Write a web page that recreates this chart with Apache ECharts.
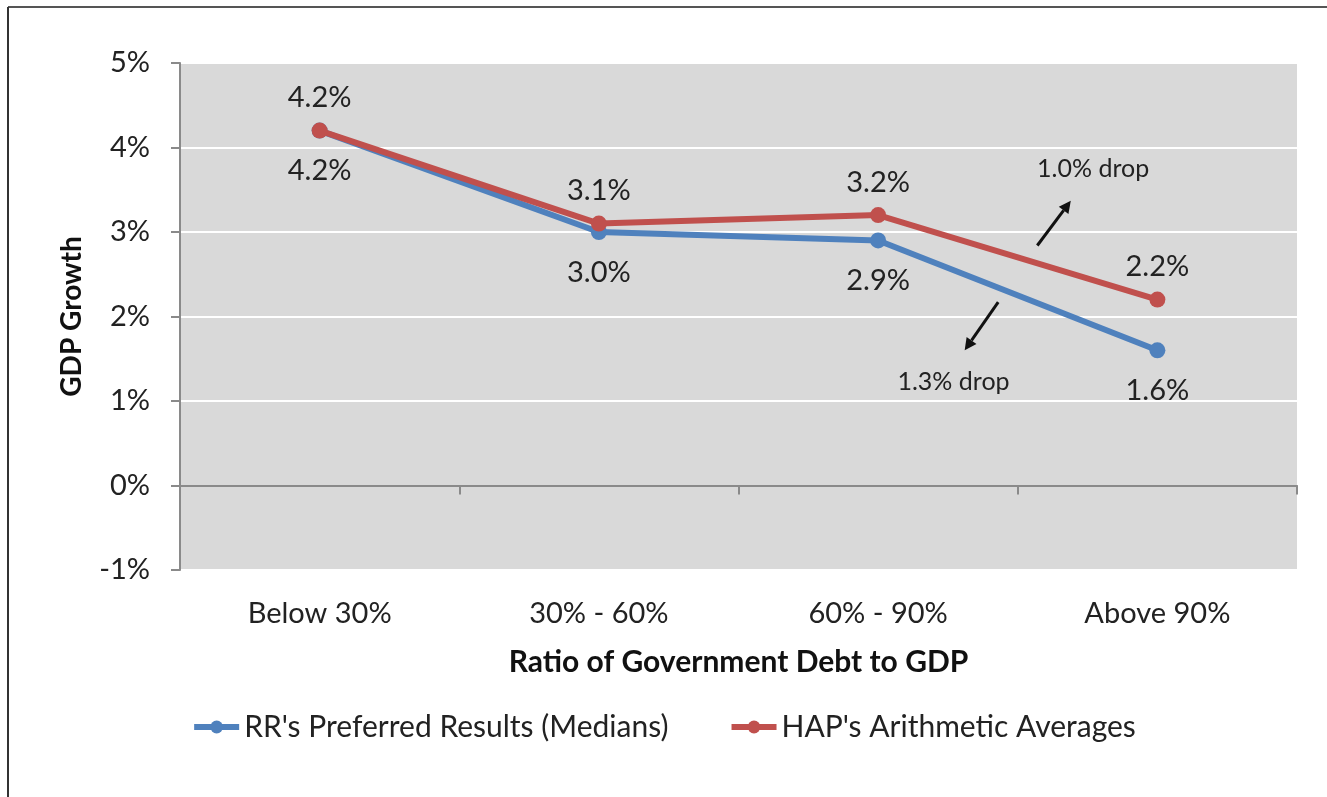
<!DOCTYPE html>
<html>
<head>
<meta charset="utf-8">
<script src="https://cdn.jsdelivr.net/npm/echarts@6/dist/echarts.min.js"></script>
<style>
  html, body { margin: 0; padding: 0; background: #fff; }
  #chart { width: 1327px; height: 797px; }
</style>
</head>
<body>
<div id="chart"></div>
<script>
var categories = ['Below 30%', '30% - 60%', '60% - 90%', 'Above 90%']
var rrMedians = [4.2, 3.0, 2.9, 1.6]
var hapAverages = [4.2, 3.1, 3.2, 2.2]
var seriesNames = ["RR's Preferred Results (Medians)", "HAP's Arithmetic Averages"]
// annotations: [category position, value]
var dropNotes = [
  { text: '1.0% drop', at: [2.77, 3.75], from: [2.57, 2.84], to: [2.69, 3.37] },
  { text: '1.3% drop', at: [2.27, 1.23], from: [2.43, 2.17], to: [2.31, 1.60] }
]

var font = 'Lato, "Open Sans", sans-serif'
var chart = echarts.init(document.getElementById('chart'))

var option = {
  animation: false,
  textStyle: { fontFamily: font },
  grid: { left: 180, right: 30, top: 63, bottom: 227, containLabel: false },
  legend: {
    bottom: 50,
    left: 'center',
    itemWidth: 45,
    itemHeight: 16,
    itemGap: 60,
    lineStyle: { width: 6 },
    textStyle: { fontSize: 30, color: '#222', fontFamily: font },
    data: seriesNames
  },
  xAxis: [{
    type: 'category',
    data: categories,
    position: 'bottom',
    axisLine: { show: false, onZero: false },
    axisTick: { show: false },
    axisLabel: { fontSize: 29, color: '#222', margin: 29 },
    name: 'Ratio of Government Debt to GDP',
    nameLocation: 'middle',
    nameGap: 77,
    nameTextStyle: { fontSize: 30, fontWeight: 'bold', color: '#111' }
  }, {
    // zero line with boundary ticks
    type: 'category',
    data: categories,
    position: 'bottom',
    axisLine: { show: true, onZero: true, lineStyle: { color: '#8a8a8a', width: 2 } },
    axisTick: { show: true, length: 9, lineStyle: { color: '#8a8a8a', width: 2 } },
    axisLabel: { show: false }
  }],
  yAxis: {
    type: 'value',
    min: -1,
    max: 5,
    interval: 1,
    axisLine: { show: true, lineStyle: { color: '#8a8a8a', width: 2 } },
    axisTick: { show: true, length: 9, lineStyle: { color: '#8a8a8a', width: 2 } },
    axisLabel: { fontSize: 29, color: '#222', margin: 30, formatter: '{value}%' },
    splitLine: { show: true, lineStyle: { color: '#ffffff', width: 2 } },
    splitArea: { show: true, areaStyle: { color: ['#d9d9d9', '#d9d9d9'] } },
    name: 'GDP Growth',
    nameLocation: 'middle',
    nameRotate: 90,
    nameGap: 94,
    nameTextStyle: { fontSize: 28, fontWeight: 'bold', color: '#111' }
  },
  series: [{
    name: seriesNames[0],
    type: 'line',
    data: rrMedians,
    symbol: 'circle',
    symbolSize: 16,
    lineStyle: { color: '#4f81bd', width: 6 },
    itemStyle: { color: '#4f81bd' },
    z: 3,
    label: {
      show: true,
      position: 'bottom',
      distance: 18,
      fontSize: 29,
      color: '#222',
      formatter: function (p) { return p.value.toFixed(1) + '%' }
    }
  }, {
    name: seriesNames[1],
    type: 'line',
    data: hapAverages,
    symbol: 'circle',
    symbolSize: 16,
    lineStyle: { color: '#c0504d', width: 6 },
    itemStyle: { color: '#c0504d' },
    z: 4,
    label: {
      show: true,
      position: 'top',
      distance: 10,
      fontSize: 29,
      color: '#222',
      formatter: function (p) { return p.value.toFixed(1) + '%' }
    }
  }]
}
chart.setOption(option)

// category positions may be fractional, so interpolate between neighbouring indices
function toPx(pt) {
  var i = Math.floor(pt[0])
  var x0 = chart.convertToPixel({ xAxisIndex: 0 }, i)
  var x1 = chart.convertToPixel({ xAxisIndex: 0 }, i + 1)
  var y = chart.convertToPixel({ yAxisIndex: 0 }, pt[1])
  return [x0 + (x1 - x0) * (pt[0] - i), y]
}

var graphics = [
  { type: 'line', shape: { x1: 8, y1: 7, x2: 1327, y2: 7 }, style: { stroke: '#555', lineWidth: 2 } },
  { type: 'line', shape: { x1: 8, y1: 7, x2: 8, y2: 797 }, style: { stroke: '#333', lineWidth: 2 } }
]
dropNotes.forEach(function (n) {
  var a = toPx(n.from), b = toPx(n.to), t = toPx(n.at)
  var ang = Math.atan2(b[1] - a[1], b[0] - a[0])
  var hl = 12, hw = 6
  var bx = b[0] - hl * Math.cos(ang), by = b[1] - hl * Math.sin(ang)
  graphics.push({
    type: 'line', z: 10,
    shape: { x1: a[0], y1: a[1], x2: bx, y2: by },
    style: { stroke: '#111', lineWidth: 3 }
  })
  graphics.push({
    type: 'polygon', z: 10,
    shape: { points: [
      [b[0], b[1]],
      [bx + hw * Math.sin(ang), by - hw * Math.cos(ang)],
      [bx - hw * Math.sin(ang), by + hw * Math.cos(ang)]
    ] },
    style: { fill: '#111' }
  })
  graphics.push({
    type: 'text', z: 10, x: t[0], y: t[1],
    style: { text: n.text, fontSize: 25, fill: '#222', fontFamily: font, align: 'center', verticalAlign: 'middle' }
  })
})
chart.setOption({ graphic: graphics })
</script>
</body>
</html>
